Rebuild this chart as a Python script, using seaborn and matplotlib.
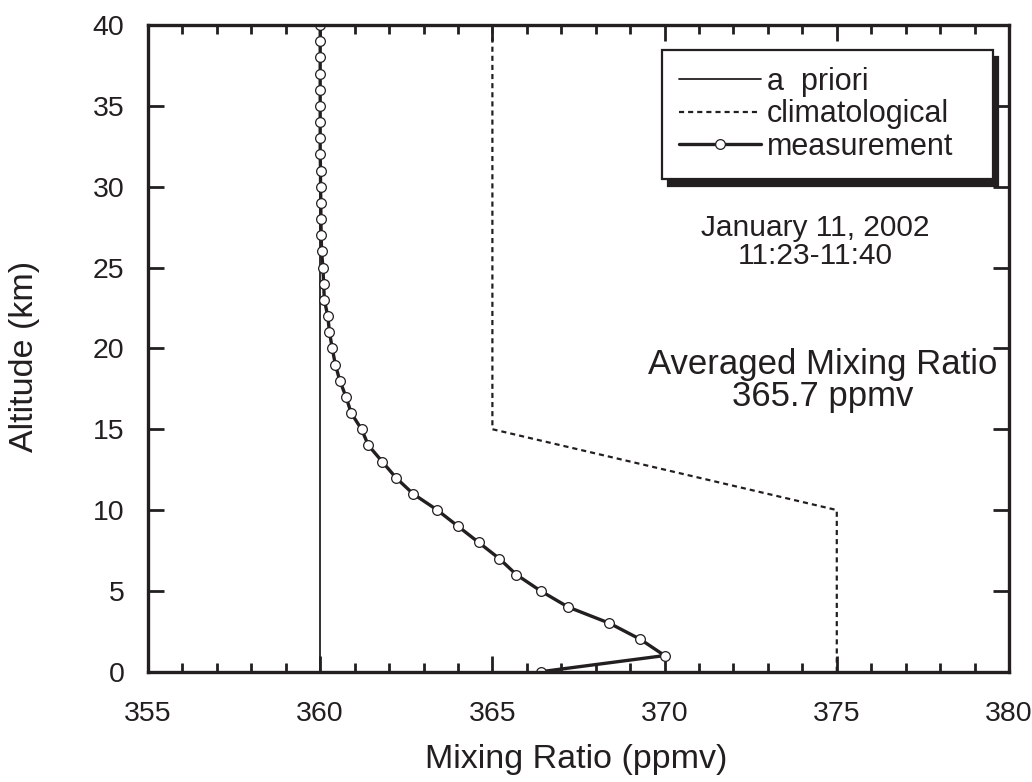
import numpy as np
import pandas as pd
import matplotlib
matplotlib.use("Agg")
import matplotlib.pyplot as plt
import seaborn as sns
from matplotlib.ticker import MultipleLocator

sns.set_theme(style="ticks")
plt.rcParams['font.family'] = ['Liberation Sans', 'DejaVu Sans']

# ---- data ----
altitude = list(range(0, 41))
measurement = [366.4, 370.0, 369.3, 368.4, 367.2, 366.4, 365.7, 365.2, 364.6, 364.0,
               363.4, 362.7, 362.2, 361.8, 361.4, 361.2, 360.9, 360.75, 360.57, 360.44,
               360.35, 360.27, 360.22, 360.12, 360.1, 360.08, 360.04, 360.03, 360.02, 360.02,
               360.01, 360.01, 360.0, 360.0, 360.0, 360.0, 360.0, 360.0, 360.0, 360.0, 360.0]
apriori_alt = [0, 40]
apriori_val = [360, 360]
clim_alt = [0, 10, 15, 40]
clim_val = [375, 375, 365, 365]
legend_labels = ["a  priori", "climatological", "measurement"]

date_text = "January 11, 2002\n11:23-11:40"
avg_text = "Averaged Mixing Ratio\n365.7 ppmv"

INK = "#231f20"

meas_df = pd.DataFrame({"Mixing Ratio": measurement, "Altitude": altitude})
apr_df = pd.DataFrame({"Mixing Ratio": apriori_val, "Altitude": apriori_alt})
clim_df = pd.DataFrame({"Mixing Ratio": clim_val, "Altitude": clim_alt})

fig = plt.figure(figsize=(10.32, 7.82), dpi=100)
ax = fig.add_axes([0.1434, 0.1410, 0.8343, 0.8270])

sns.lineplot(data=apr_df, x="Mixing Ratio", y="Altitude", sort=False, estimator=None,
             color=INK, linewidth=1.3, ax=ax, legend=False)
apr_line = ax.lines[-1]
sns.lineplot(data=clim_df, x="Mixing Ratio", y="Altitude", sort=False, estimator=None,
             color=INK, linewidth=1.6, ax=ax, legend=False)
clim_line = ax.lines[-1]
clim_line.set_dashes((2.3, 1.8))
sns.lineplot(data=meas_df, x="Mixing Ratio", y="Altitude", sort=False, estimator=None,
             color=INK, linewidth=2.4, marker="o", markersize=7,
             markerfacecolor="white", markeredgecolor=INK, markeredgewidth=0.9,
             ax=ax, legend=False)
meas_line = ax.lines[-1]

ax.set_xlim(355, 380)
ax.set_ylim(0, 40)
ax.xaxis.set_major_locator(MultipleLocator(5))
ax.xaxis.set_minor_locator(MultipleLocator(1))
ax.yaxis.set_major_locator(MultipleLocator(5))
ax.tick_params(which="both", direction="in", top=True, right=True, width=2.0, colors=INK)
ax.tick_params(which="major", length=11.5, labelsize=20.5, labelcolor=INK)
ax.tick_params(which="minor", length=6.5)
ax.tick_params(axis="x", which="major", pad=21)
ax.tick_params(axis="y", which="major", pad=17)
for s in ax.spines.values():
    s.set_linewidth(2.4)
    s.set_color(INK)

ax.set_xlabel("Mixing Ratio (ppmv)", fontsize=24.5, color=INK)
ax.set_ylabel("Altitude (km)", fontsize=24.5, color=INK)
ax.xaxis.set_label_coords(0.497, -0.112)
ax.yaxis.set_label_coords(-0.1254, 0.488)

leg = ax.legend(handles=[apr_line, clim_line, meas_line], labels=legend_labels,
                loc="upper left", bbox_to_anchor=(0.597, 0.765, 0.384, 0.196),
                mode="expand", borderaxespad=0, fontsize=22,
                frameon=True, fancybox=False, edgecolor=INK, framealpha=1,
                shadow={"color": INK, "alpha": 1, "ox": 4, "oy": -5},
                handlelength=2.7, handletextpad=0.18, labelspacing=0.08,
                borderpad=0.55, numpoints=1)
leg.get_frame().set_linewidth(1.6)
for t in leg.get_texts():
    t.set_color(INK)

ax.text(374.37, 26.6, date_text, ha="center", va="center", fontsize=21.5,
        color=INK, linespacing=1.0)
ax.text(374.58, 18.0, avg_text, ha="center", va="center", fontsize=25,
        color=INK, linespacing=0.97)

fig.savefig("out.png", dpi=100, facecolor="white")
